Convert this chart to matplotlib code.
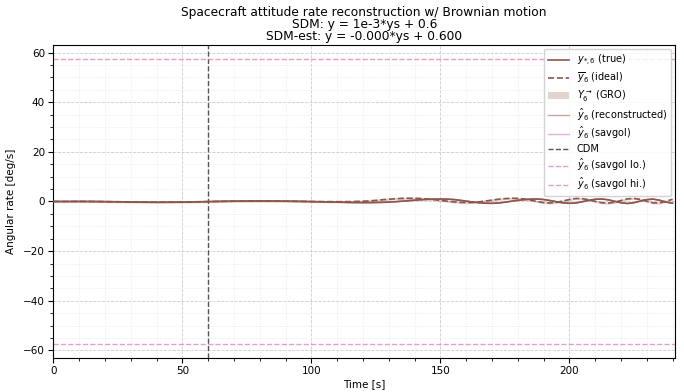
import numpy as np
import matplotlib
matplotlib.use("Agg")
import matplotlib.pyplot as plt
from matplotlib.ticker import AutoMinorLocator, MultipleLocator

# ---- data ----
t_early = [0, 5, 10, 15, 20, 25, 30, 35, 40, 45, 50, 55, 60, 65, 70, 75, 80, 85,
           90, 95, 100, 105, 110, 115]
true_early = [0.0, 0.0, 0.02, 0.0, -0.05, -0.12, -0.2, -0.28, -0.32, -0.3, -0.25, -0.15,
              -0.05, 0.05, 0.12, 0.18, 0.2, 0.18, 0.12, 0.05, -0.05, -0.15, -0.28, -0.4]
ideal_early = [0.0, 0.0, 0.02, 0.0, -0.05, -0.1, -0.18, -0.25, -0.28, -0.27, -0.22, -0.13,
               -0.04, 0.05, 0.12, 0.16, 0.18, 0.16, 0.12, 0.06, 0.0, -0.05, -0.08, -0.05]

t_late = [120, 122.5, 125, 127.5, 130, 132.5, 135, 137.5, 140, 142.5, 145, 147.5,
          150, 152.5, 155, 157.5, 160, 162.5, 165, 167.5, 170, 172.5, 175, 177.5,
          180, 182.5, 185, 187.5, 190, 192.5, 195, 197.5, 200, 202.5, 205, 207.5,
          210, 212.5, 215, 217.5, 220, 222.5, 225, 227.5, 230, 232.5, 235, 237.5, 240]
ideal_late = [0.1, 0.25, 0.45, 0.7, 0.9, 1.1, 1.25, 1.3, 1.3, 1.2, 1.0, 0.75,
              0.45, 0.15, -0.15, -0.35, -0.45, -0.4, -0.15, 0.2, 0.55, 0.9, 1.15, 1.3,
              1.25, 1.0, 0.55, 0.0, -0.45, -0.6, -0.35, 0.2, 0.8, 1.2, 1.15, 0.7,
              0.05, -0.5, -0.65, -0.3, 0.4, 1.05, 1.25, 0.85, 0.1, -0.55, -0.6, 0.1, 0.9]
true_late = [-0.45, -0.45, -0.4, -0.35, -0.25, -0.1, 0.1, 0.3, 0.5, 0.7, 0.85, 0.95,
             1.0, 0.95, 0.8, 0.5, 0.15, -0.2, -0.5, -0.7, -0.75, -0.6, -0.3, 0.1,
             0.45, 0.75, 0.95, 1.0, 0.8, 0.4, -0.1, -0.55, -0.75, -0.6, -0.1, 0.45,
             0.9, 1.0, 0.7, 0.1, -0.5, -0.8, -0.5, 0.15, 0.75, 0.95, 0.5, -0.25, -0.7]

time = t_early + t_late
y_true = true_early + true_late
y_ideal = ideal_early + ideal_late
y_recon = list(y_true)
y_savgol = list(y_true)
gro_halfwidth = 0.45
cdm_time = 60
savgol_lo = -57.3
savgol_hi = 57.3

title = ("Spacecraft attitude rate reconstruction w/ Brownian motion\n"
         "SDM: y = 1e-3*ys + 0.6\n"
         "SDM-est: y = -0.000*ys + 0.600")

# ---- plot ----
fig = plt.figure(figsize=(6.84, 3.92), dpi=100)
ax = fig.add_axes([0.078, 0.087, 0.909, 0.798])

t = np.array(time)
yi = np.array(y_ideal)

ax.plot(t, y_true, color="#8c564b", lw=1.2, label=r"$y_{*,6}$ (true)", zorder=4)
ax.plot(t, yi, color="#8c564b", lw=1.2, ls="--", label=r"$\overline{y}_6$ (ideal)", zorder=4)
ax.fill_between(t, yi - gro_halfwidth, yi + gro_halfwidth, color="#8c564b", alpha=0.25,
                lw=0, label=r"$Y_6^{\to}$ (GRO)", zorder=3)
ax.plot(t, y_recon, color="#c49c94", lw=1.0, alpha=0.9, label=r"$\hat{y}_6$ (reconstructed)", zorder=2)
ax.plot(t, y_savgol, color="#e377c2", lw=1.0, alpha=0.6, label=r"$\hat{y}_6$ (savgol)", zorder=2)
ax.axvline(cdm_time, color="#555555", ls="--", lw=1.0, label="CDM")
ax.axhline(savgol_lo, color="#e377c2", ls="--", lw=1.0, alpha=0.75, label=r"$\hat{y}_6$ (savgol lo.)")
ax.axhline(savgol_hi, color="#e377c2", ls="--", lw=1.0, alpha=0.75, label=r"$\hat{y}_6$ (savgol hi.)")

ax.set_xlim(0, 241)
ax.set_ylim(-63, 63)
ax.xaxis.set_major_locator(MultipleLocator(50))
ax.yaxis.set_major_locator(MultipleLocator(20))
ax.xaxis.set_minor_locator(AutoMinorLocator())
ax.yaxis.set_minor_locator(AutoMinorLocator())
ax.grid(which="major", ls="--", color="#cccccc", lw=0.6)
ax.grid(which="minor", ls=":", color="#e2e2e2", lw=0.5)
ax.tick_params(labelsize=7.5, pad=2.5)

ax.set_xlabel("Time [s]", fontsize=7.5, labelpad=2)
ax.set_ylabel("Angular rate [deg/s]", fontsize=7.5, labelpad=5)
ax.set_title(title, fontsize=8.8, linespacing=0.88, pad=4)

ax.legend(loc="upper right", fontsize=7, framealpha=0.85, handlelength=2.2,
          labelspacing=0.28, borderaxespad=0.4)

fig.savefig("out.png", dpi=100)
